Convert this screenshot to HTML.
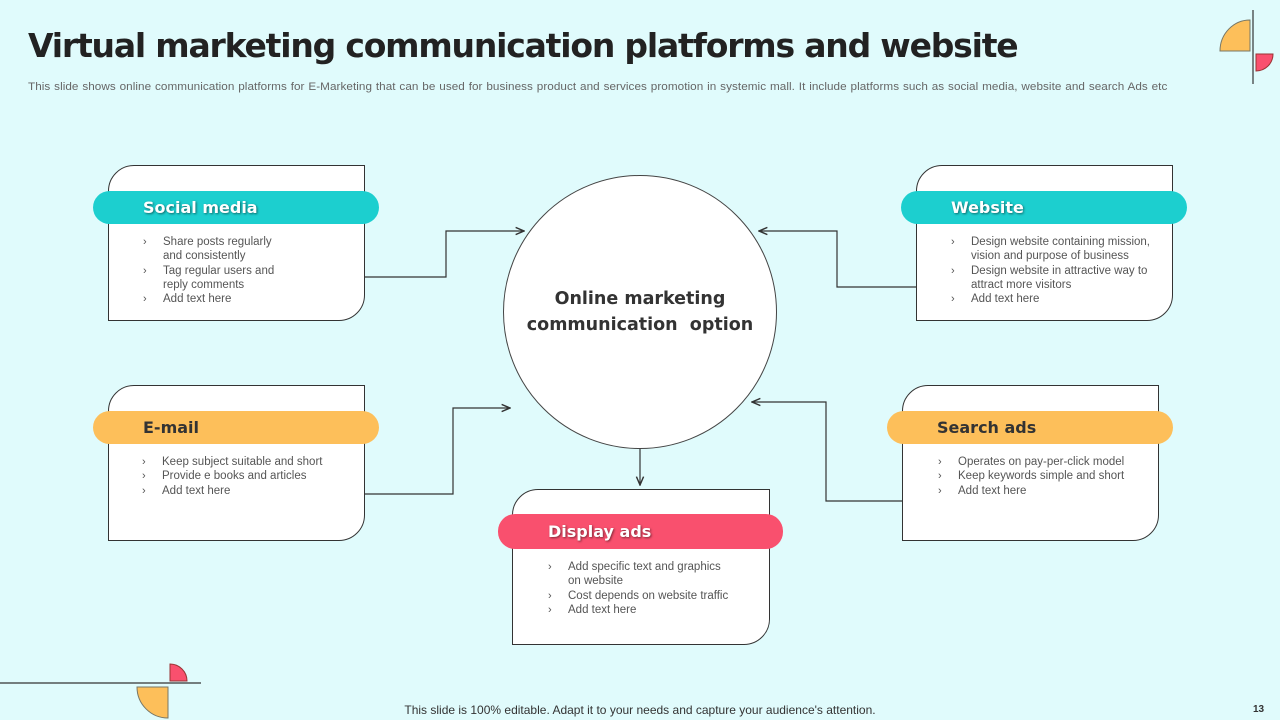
<!DOCTYPE html>
<html><head><meta charset="utf-8"><style>
*{margin:0;padding:0;box-sizing:border-box}
body{width:1280px;height:720px;background:#e0fbfc;position:relative;overflow:hidden;font-family:"Liberation Sans",sans-serif}
.t{position:absolute;left:28px;top:26px;font-family:"DejaVu Sans",sans-serif;font-weight:bold;font-size:33px;color:#222;letter-spacing:-1.2px}
.sub{position:absolute;left:28px;top:81px;font-size:11px;color:#666;letter-spacing:0.05px;word-spacing:0.5px;white-space:nowrap;transform:scaleX(1.064);transform-origin:left}
.box{position:absolute;width:257px;height:156px;background:#fff;border:1px solid #333;border-radius:26px 0 26px 0}
.pill{position:absolute;height:33px;border-radius:17px;font-family:"DejaVu Sans",sans-serif;font-weight:bold;font-size:16px;line-height:33px;padding-left:50px;color:#fff;text-shadow:1px 1px 2px rgba(0,0,0,.5)}
.teal{background:#1ccfcf}.org{background:#fdbf5a;color:#333;text-shadow:none}.pink{background:#f9506e}
.ul{position:absolute;font-size:11.5px;color:#555;line-height:14.3px}
.ul div{padding-left:20px;position:relative}
.ul div.b:before{content:"›";position:absolute;left:0;font-size:11px}
.circ{position:absolute;left:503px;top:175px;width:274px;height:274px;border-radius:50%;background:#fff;border:1px solid #444;display:flex;align-items:center;justify-content:center;text-align:center;font-family:"DejaVu Sans",sans-serif;font-weight:bold;font-size:17.5px;color:#333;line-height:26px}
.foot{position:absolute;top:703px;left:0;width:1280px;text-align:center;font-size:12px;color:#333}
</style></head><body>
<div class="t">Virtual marketing communication platforms and website</div>
<div class="sub">This slide shows online communication platforms for E-Marketing that can be used for business product and services promotion in systemic mall. It include platforms such as social media, website and search Ads etc</div>

<svg width="1280" height="720" style="position:absolute;left:0;top:0">
<defs><marker id="a" markerWidth="8" markerHeight="8" refX="7" refY="4" orient="auto"><path d="M0,1 L7,4 L0,7" fill="none" stroke="#333" stroke-width="1.2"/></marker></defs>
<g fill="none" stroke="#333" stroke-width="1.2">
<polyline points="365,277 446,277 446,231 524,231" marker-end="url(#a)"/>
<polyline points="916,287 837,287 837,231 759,231" marker-end="url(#a)"/>
<polyline points="365,494 453,494 453,408 510,408" marker-end="url(#a)"/>
<polyline points="902,501 826,501 826,402 752,402" marker-end="url(#a)"/>
<polyline points="640,449 640,485" marker-end="url(#a)"/>
<line x1="1253" y1="10" x2="1253" y2="84"/>
<line x1="0" y1="683" x2="201" y2="683"/>
</g>
<path d="M1250,20 L1250,51 L1220,51 A30,31 0 0 1 1250,20Z" fill="#fdbf5a" stroke="#776" stroke-width="1"/>
<path d="M1256,54 L1273,54 A17,17 0 0 1 1256,71Z" fill="#f9506e" stroke="#933" stroke-width="1"/>
<path d="M137,687 L168,687 L168,718 A31,31 0 0 1 137,687Z" fill="#fdbf5a" stroke="#776" stroke-width="1"/>
<path d="M170,664 L170,681 L187,681 A17,17 0 0 0 170,664Z" fill="#f9506e" stroke="#933" stroke-width="1"/>
</svg>

<div class="circ">Online marketing<br>communication&nbsp; option</div>

<div class="box" style="left:108px;top:165px"></div>
<div class="pill teal" style="left:93px;top:191px;width:286px">Social media</div>
<div class="ul" style="left:143px;top:235px"><div class="b">Share posts regularly</div><div>and consistently</div><div class="b">Tag regular users and</div><div>reply comments</div><div class="b">Add text here</div></div>

<div class="box" style="left:916px;top:165px"></div>
<div class="pill teal" style="left:901px;top:191px;width:286px">Website</div>
<div class="ul" style="left:951px;top:235px"><div class="b">Design website containing mission,</div><div>vision and purpose of business</div><div class="b">Design website in attractive way to</div><div>attract more visitors</div><div class="b">Add text here</div></div>

<div class="box" style="left:108px;top:385px"></div>
<div class="pill org" style="left:93px;top:411px;width:286px">E-mail</div>
<div class="ul" style="left:142px;top:455px"><div class="b">Keep subject suitable and short</div><div class="b">Provide e books and articles</div><div class="b">Add text here</div></div>

<div class="box" style="left:902px;top:385px"></div>
<div class="pill org" style="left:887px;top:411px;width:286px">Search ads</div>
<div class="ul" style="left:938px;top:455px"><div class="b">Operates on pay-per-click model</div><div class="b">Keep keywords simple and short</div><div class="b">Add text here</div></div>

<div class="box" style="left:512px;top:489px;width:258px"></div>
<div class="pill pink" style="left:498px;top:514px;width:285px;height:35px;line-height:35px">Display ads</div>
<div class="ul" style="left:548px;top:560px"><div class="b">Add specific text and graphics</div><div>on website</div><div class="b">Cost depends on website traffic</div><div class="b">Add text here</div></div>

<div class="foot">This slide is 100% editable. Adapt it to your needs and capture your audience's attention.</div>
<div style="position:absolute;left:1253px;top:704px;font-size:10px;font-weight:bold;color:#333">13</div>
</body></html>
